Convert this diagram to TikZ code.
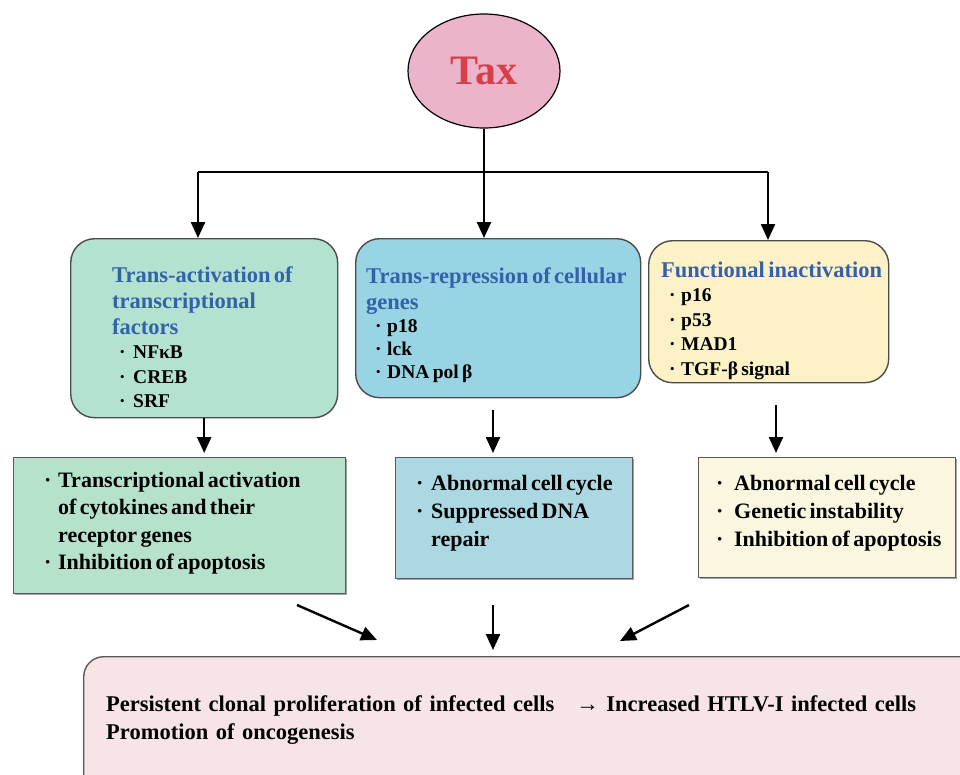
\documentclass[tikz,border=0pt]{standalone}
\usepackage{fontspec}
\setmainfont{Liberation Serif}
\usetikzlibrary{arrows.meta, shapes.geometric, shadows}

\definecolor{taxpink}{RGB}{236,180,202}
\definecolor{taxred}{RGB}{214,64,72}
\definecolor{headblue}{RGB}{52,98,168}
\definecolor{actgreen}{RGB}{180,226,208}
\definecolor{repblue}{RGB}{152,212,228}
\definecolor{inacyellow}{RGB}{252,242,198}
\definecolor{resgreen}{RGB}{182,226,204}
\definecolor{resblue}{RGB}{172,216,228}
\definecolor{rescream}{RGB}{250,246,224}
\definecolor{outpink}{RGB}{246,228,230}

\newlength{\bulletwd}
\newcommand{\headfont}{\fontsize{22.5}{26}\selectfont\color{headblue}}
\newcommand{\itemfont}{\fontsize{19.5}{24.5}\selectfont}
\newcommand{\resfont}{\fontsize{22}{27.5}\selectfont}
\newcommand{\dotitem}[1]{\noindent\hangindent=\bulletwd\hangafter=1\makebox[\bulletwd][l]{·}#1\par}

\begin{document}
\begin{tikzpicture}[
            x = 1pt, y = -1pt, % pixel grid, y grows downwards
            > = {Triangle[length=16pt, width=14pt]}, % arrow head style
            line width = 2.4pt,
            font = \bfseries
        ]

        \tikzstyle{roundbox}=[
            draw = black!70,
            line width = 1.4pt,
            rounded corners = 24pt,
            anchor = north west,
            inner sep = 0pt
        ]
        \tikzstyle{squarebox}=[
            draw = black!65,
            line width = 1.4pt,
            anchor = north west,
            inner sep = 0pt,
            drop shadow = {shadow xshift=1.5pt, shadow yshift=-1.5pt, fill=black!70}
        ]
        \tikzstyle{boxtext}=[
            anchor = base west,
            inner sep = 0pt,
            align = left
        ]

        \useasboundingbox (0,0) rectangle (960,774);
        \clip (0,0) rectangle (960,774);

        % Tax
        \node[ellipse, draw=black, line width=1.2pt, fill=taxpink, minimum width=152pt,
              minimum height=114pt, inner sep=0pt, text=taxred,
              font=\fontsize{42}{42}\selectfont\bfseries] (tax) at (484,71) {Tax};

        % mechanisms
        \node[roundbox, fill=actgreen, minimum width=267pt, minimum height=179pt] (act) at (70,238) {};
        \node[roundbox, fill=repblue, minimum width=285pt, minimum height=159pt] (rep) at (355,238) {};
        \node[roundbox, fill=inacyellow, minimum width=240pt, minimum height=142pt] (inac) at (648,240) {};

        \node[boxtext, text width=250pt] (acttxt) at (111,282)
            {{\headfont Trans-activation of\newline transcriptional\newline factors\par}
             \itemfont\setlength{\bulletwd}{14pt}\leftskip=7pt
             \dotitem{NFκB}\dotitem{CREB}\dotitem{SRF}};
        \node[boxtext, text width=275pt] (reptxt) at (365,283)
            {{\headfont Trans-repression of cellular\newline genes\par}
             \fontsize{19.5}{23}\selectfont\setlength{\bulletwd}{12pt}\leftskip=9pt
             \dotitem{p18}\dotitem{lck}\dotitem{DNA pol β}};
        \node[boxtext, text width=228pt] (inactxt) at (660,277)
            {{\headfont Functional inactivation\par}
             \itemfont\setlength{\bulletwd}{12pt}\leftskip=8pt
             \dotitem{p16}\dotitem{p53}\dotitem{MAD1}\dotitem{TGF-β signal}};

        % consequences
        \node[squarebox, fill=resgreen, minimum width=332pt, minimum height=136pt] (actres) at (13,457) {};
        \node[squarebox, fill=resblue, minimum width=237pt, minimum height=121pt] (represult) at (395,457) {};
        \node[squarebox, fill=rescream, minimum width=257pt, minimum height=120pt] (inacres) at (698,457) {};

        \node[boxtext, text width=300pt] (actrestxt) at (43,487)
            {\resfont\setlength{\bulletwd}{14pt}%
             \dotitem{Transcriptional activation\newline of cytokines and their\newline receptor genes}%
             \dotitem{Inhibition of apoptosis}};
        \node[boxtext, text width=225pt] (represulttxt) at (415,490)
            {\fontsize{22}{28}\selectfont\setlength{\bulletwd}{15pt}%
             \dotitem{Abnormal cell cycle}\dotitem{Suppressed DNA\newline repair}};
        \node[boxtext, text width=250pt] (inacrestxt) at (715,490)
            {\fontsize{22}{28}\selectfont\setlength{\bulletwd}{18pt}%
             \dotitem{Abnormal cell cycle}\dotitem{Genetic instability}\dotitem{Inhibition of apoptosis}};

        % outcome
        \node[roundbox, draw=black!65, fill=outpink, rounded corners=20pt,
              minimum width=900pt, minimum height=140pt] (outcome) at (83,656) {};
        \node[boxtext, text width=850pt, font=\bfseries\fontsize{22.5}{28}\selectfont] (outcometxt) at (105,711)
            {Persistent clonal proliferation of infected cells\hspace{22pt}→ Increased HTLV-I infected cells\newline
             Promotion of oncogenesis};

        % connectors
        \coordinate (splitL) at (198,172);
        \coordinate (splitR) at (768,172);
        \coordinate (repout) at (493,410);
        \coordinate (inacout) at (776,405);
        \coordinate (leftfrom) at (297,605);
        \coordinate (leftto) at (377,640);
        \coordinate (midfrom) at (493,605);
        \coordinate (rightfrom) at (689,605);
        \coordinate (rightto) at (620,641);

        \draw[->] (tax.south) -- (tax.south |- rep.north);
        \draw (splitL) -- (splitR);
        \draw[->] (splitL) -- (splitL |- act.north);
        \draw[->] (splitR) -- (splitR |- inac.north);

        \draw[->, shorten >=4pt] (act.south) -- (act.south |- actres.north);
        \draw[->, shorten >=4pt] (repout) -- (repout |- represult.north);
        \draw[->, shorten >=4pt] (inacout) -- (inacout |- inacres.north);

        \draw[->] (leftfrom) -- (leftto);
        \draw[->, shorten >=6pt] (midfrom) -- (midfrom |- outcome.north);
        \draw[->] (rightfrom) -- (rightto);

  \end{tikzpicture}
\end{document}
